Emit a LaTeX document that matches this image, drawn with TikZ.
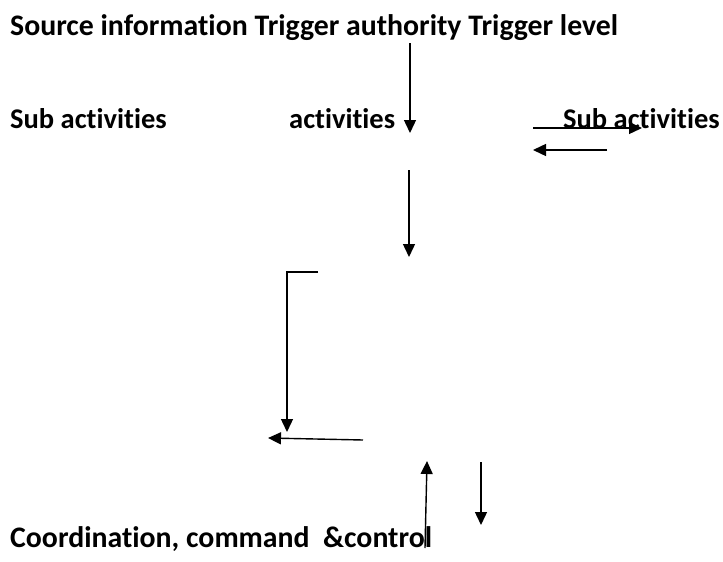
\documentclass[tikz,border=0pt]{standalone}
\usepackage{fontspec}
\setmainfont{Carlito}[Ligatures=NoCommon]
\usetikzlibrary{arrows.meta}

\begin{document}
\begin{tikzpicture}[x=1pt,y=-1pt,
    label/.style={anchor=base west,inner sep=0pt,font=\fontsize{28.5}{32}\selectfont\bfseries},
    biglabel/.style={label,font=\fontsize{29.8}{34}\selectfont\bfseries},
    flow/.style={line width=1.4pt,-{Triangle[length=13pt,width=12pt]}}]
    \useasboundingbox (0,0) rectangle (723,562);

    % texts
    \node[biglabel] (title) at (10,35) {Source information Trigger authority Trigger level};
    \node[label] (subleft) at (10,128) {Sub activities};
    \node[label] (act) at (289,128) {activities};
    \node[label] (subright) at (563,128) {Sub activities};
    \node[biglabel] (coord) at (10,547) {Coordination, command\ \ \&control};

    % arrow ends
    \coordinate (a1) at (410,43);   \coordinate (b1) at (410,133);
    \coordinate (a2) at (533,128);  \coordinate (b2) at (642,128);
    \coordinate (a3) at (607,150);  \coordinate (b3) at (533,150);
    \coordinate (a4) at (409,170);  \coordinate (b4) at (409,257);
    \coordinate (a5) at (318,272);  \coordinate (k5) at (287,272);
    \coordinate (b5) at (287,432);
    \coordinate (a6) at (363,440);  \coordinate (b6) at (268,438);
    \coordinate (a7) at (425,548);  \coordinate (b7) at (427,461);
    \coordinate (a8) at (481,462);  \coordinate (b8) at (481,525);

    \draw[flow] (a1) -- (b1);
    \draw[flow] (a2) -- (b2);
    \draw[flow] (a3) -- (b3);
    \draw[flow] (a4) -- (b4);
    \draw[flow] (a5) -- (k5) -- (b5);
    \draw[flow] (a6) -- (b6);
    \draw[flow] (a7) -- (b7);
    \draw[flow] (a8) -- (b8);
\end{tikzpicture}
\end{document}
